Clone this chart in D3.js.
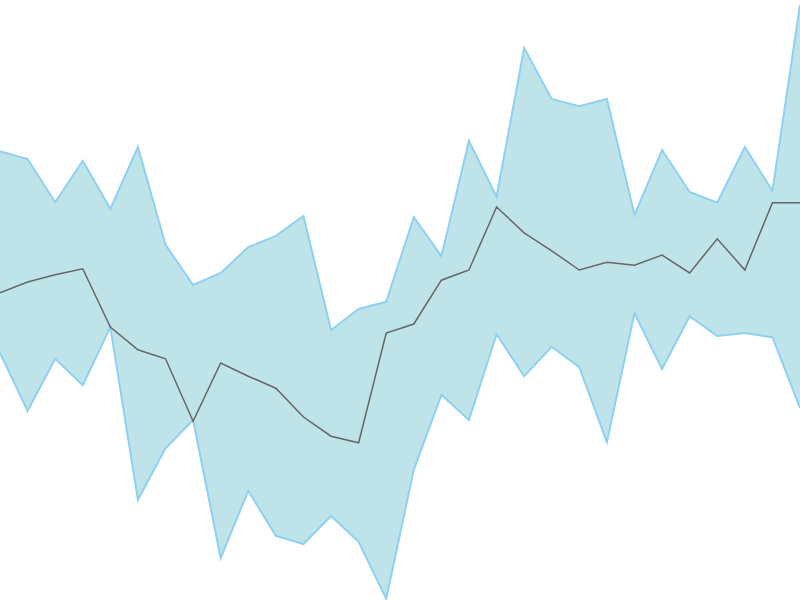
<!DOCTYPE html>
<html>
<head>
<meta charset="utf-8">
<script src="https://cdn.jsdelivr.net/npm/d3@7"></script>
<style>
html,body{margin:0;padding:0;background:#fff;}
svg{display:block;}
</style>
</head>
<body>
<svg id="chart" width="800" height="600"></svg>
<script>
const categories = d3.range(30);
const upperValues = [74.8,73.5,66.3,73.2,65.2,75.5,59.2,52.5,54.5,58.8,60.7,64,45,48.5,49.7,63.8,57.3,76.5,67.2,92,83.5,82.3,83.5,64.2,75,68,66.2,75.5,68.2,99.2];
const lowerValues = [41.2,31.5,40.2,35.8,45.5,16.7,25.3,30,7,18.2,10.7,9.3,14,9.7,0.2,21.7,34.2,30,44.3,37.3,42.2,38.8,26.3,47.8,38.5,47.3,44,44.5,43.8,32];
const middleValues = [51.2,53,54.2,55.2,45.5,41.7,40.2,29.8,39.5,37.3,35.3,30.5,27.3,26.2,44.5,46,53.3,55,65.5,61.2,58.2,55,56.3,55.8,57.5,54.5,60.2,55,66.2,66.2];

const W = 800, H = 600;
const svg = d3.select("#chart");
const x = d3.scaleLinear().domain([0, categories.length - 1]).range([0, W]);
const y = d3.scaleLinear().domain([0, 100]).range([H, 0]);

const data = categories.map((c, i) => ({c, lo: lowerValues[i], hi: upperValues[i], mid: middleValues[i]}));

svg.append("path")
  .datum(data)
  .attr("fill", "#bee4e9")
  .attr("stroke", "none")
  .attr("d", d3.area().x(d => x(d.c)).y0(d => y(d.lo)).y1(d => y(d.hi)));

svg.append("path")
  .datum(data)
  .attr("fill", "none")
  .attr("stroke", "#8fd0f3")
  .attr("stroke-width", 2)
  .attr("d", d3.line().x(d => x(d.c)).y(d => y(d.hi)));

svg.append("path")
  .datum(data)
  .attr("fill", "none")
  .attr("stroke", "#8fd0f3")
  .attr("stroke-width", 2)
  .attr("d", d3.line().x(d => x(d.c)).y(d => y(d.lo)));

svg.append("path")
  .datum(data)
  .attr("fill", "none")
  .attr("stroke", "#666666")
  .attr("stroke-width", 1.5)
  .attr("d", d3.line().x(d => x(d.c)).y(d => y(d.mid)));
</script>
</body>
</html>
